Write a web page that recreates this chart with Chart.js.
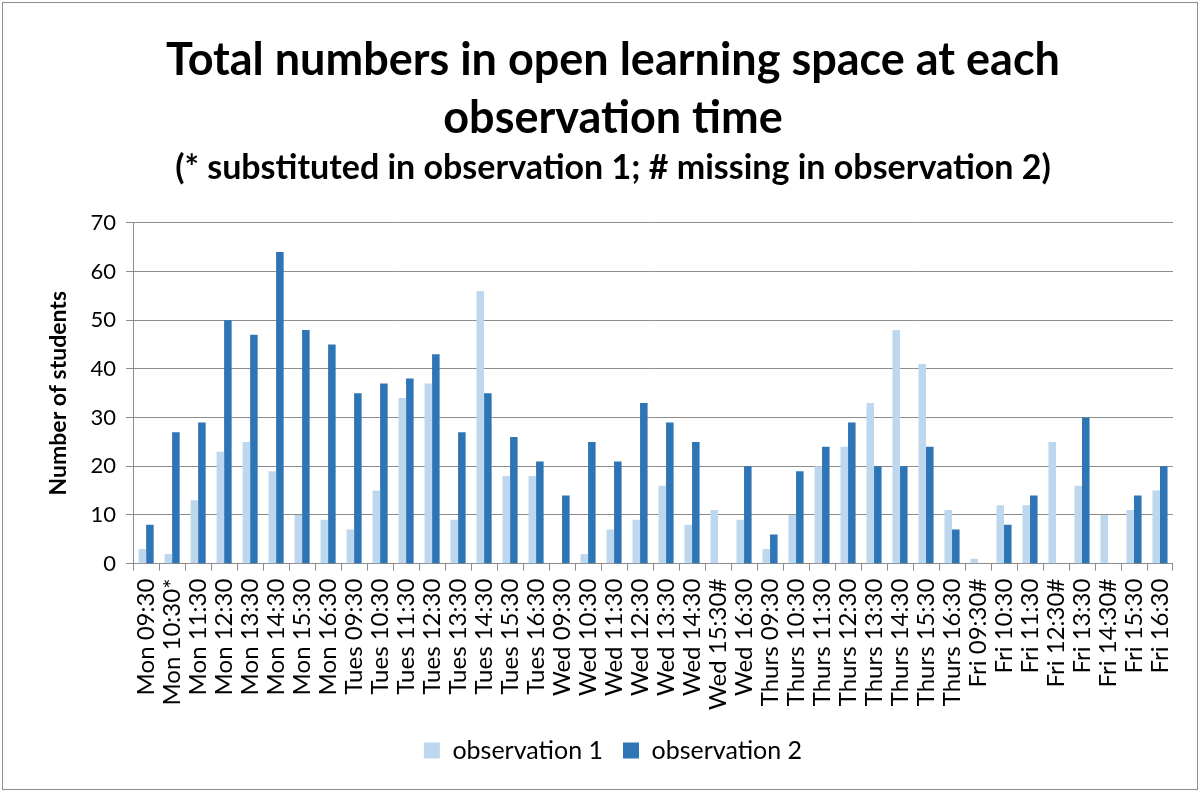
<!DOCTYPE html>
<html>
<head>
<meta charset="utf-8">
<script src="https://cdn.jsdelivr.net/npm/chart.js@4"></script>
<style>
    html, body { margin: 0; padding: 0; background: #fff; }
    #frame {
        position: absolute; left: 2px; top: 2px;
        width: 1196px; height: 788px;
        border: 1px solid #8c8c8c; box-sizing: border-box;
    }
    #wrap { position: absolute; left: 0; top: 0; width: 1194px; height: 786px; }
</style>
</head>
<body>
<div id="frame"><div id="wrap"><canvas id="chart"></canvas></div></div>
<script>
// 類別 (觀察時間)
const categories = [
    'Mon 09:30', 'Mon 10:30*', 'Mon 11:30', 'Mon 12:30', 'Mon 13:30', 'Mon 14:30', 'Mon 15:30', 'Mon 16:30',
    'Tues 09:30', 'Tues 10:30', 'Tues 11:30', 'Tues 12:30', 'Tues 13:30', 'Tues 14:30', 'Tues 15:30', 'Tues 16:30',
    'Wed 09:30', 'Wed 10:30', 'Wed 11:30', 'Wed 12:30', 'Wed 13:30', 'Wed 14:30', 'Wed 15:30#', 'Wed 16:30',
    'Thurs 09:30', 'Thurs 10:30', 'Thurs 11:30', 'Thurs 12:30', 'Thurs 13:30', 'Thurs 14:30', 'Thurs 15:30', 'Thurs 16:30',
    'Fri 09:30#', 'Fri 10:30', 'Fri 11:30', 'Fri 12:30#', 'Fri 13:30', 'Fri 14:30#', 'Fri 15:30', 'Fri 16:30'
];

// 兩次觀察的人數
const observation1 = [
    3, 2, 13, 23, 25, 19, 10, 9,
    7, 15, 34, 37, 9, 56, 18, 18,
    0, 2, 7, 9, 16, 8, 11, 9,
    3, 10, 20, 24, 33, 48, 41, 11,
    1, 12, 12, 25, 16, 10, 11, 15
];
const observation2 = [
    8, 27, 29, 50, 47, 64, 48, 45,
    35, 37, 38, 43, 27, 35, 26, 21,
    14, 25, 21, 33, 29, 25, null, 20,
    6, 19, 24, 29, 20, 20, 24, 7,
    null, 8, 14, null, 30, null, 14, 20
];

// 坐標軸刻度
const yMin = 0;
const yMax = 70;
const yStep = 10;

const FONT = 'Lato, "Open Sans", sans-serif';

new Chart(document.getElementById('chart'), {
    type: 'bar',
    data: {
        labels: categories,
        datasets: [{
            label: 'observation 1',
            data: observation1,
            backgroundColor: '#bdd7ee',
            borderWidth: 0,
            categoryPercentage: 0.58,
            barPercentage: 1.0
        }, {
            label: 'observation 2',
            data: observation2,
            backgroundColor: '#2e75b6',
            borderWidth: 0,
            categoryPercentage: 0.58,
            barPercentage: 1.0
        }]
    },
    options: {
        responsive: true,
        maintainAspectRatio: false,
        animation: false,
        layout: { padding: { left: 42, right: 16, top: 16, bottom: 16 } },
        scales: {
            x: {
                grid: {
                    drawOnChartArea: false,
                    offset: true,
                    tickLength: 7,
                    color: '#8c8c8c'
                },
                border: { color: '#8c8c8c' },
                ticks: {
                    autoSkip: false,
                    maxRotation: 90,
                    minRotation: 90,
                    padding: 8,
                    color: '#000',
                    font: { family: FONT, size: 24 }
                }
            },
            y: {
                min: yMin,
                max: yMax,
                ticks: {
                    stepSize: yStep,
                    color: '#000',
                    padding: 10,
                    font: { family: FONT, size: 22 }
                },
                grid: { color: '#8c8c8c', tickLength: 7 },
                border: { color: '#8c8c8c' },
                title: {
                    display: true,
                    text: 'Number of students',
                    color: '#000',
                    padding: { top: 0, bottom: 8 },
                    font: { family: FONT, size: 23, weight: 'bold' }
                }
            }
        },
        plugins: {
            title: {
                display: true,
                text: ['Total numbers in open learning space at each', 'observation time'],
                color: '#000',
                font: { family: FONT, size: 45, weight: 'bold', lineHeight: 1.3 },
                padding: { top: 12, bottom: 0 }
            },
            subtitle: {
                display: true,
                text: '(* substituted in observation 1; # missing in observation 2)',
                color: '#000',
                font: { family: FONT, size: 34, weight: 'bold' },
                padding: { top: 0, bottom: 34 }
            },
            legend: {
                position: 'bottom',
                labels: {
                    boxWidth: 16,
                    boxHeight: 16,
                    padding: 20,
                    color: '#000',
                    font: { family: FONT, size: 25 }
                }
            },
            tooltip: { enabled: false }
        }
    }
});
</script>
</body>
</html>
